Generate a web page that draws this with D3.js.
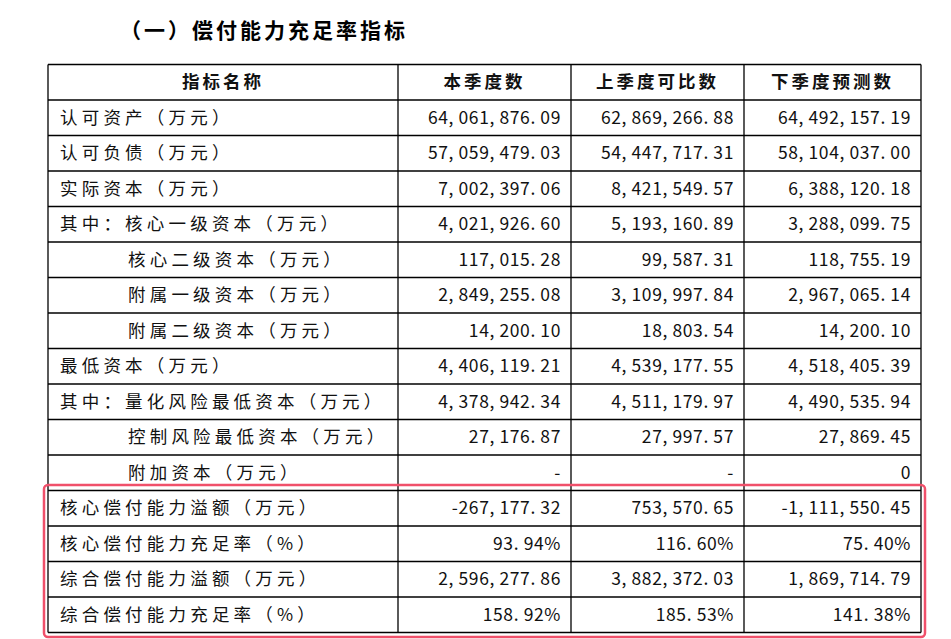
<!DOCTYPE html><html><head><meta charset="utf-8"><script src="https://cdn.jsdelivr.net/npm/d3@7"></script>
<style>body{margin:0;background:#fff}</style></head><body><svg id="c" width="951" height="639"></svg>
<script>
const title="（一）偿付能力充足率指标";
const headers=["指标名称","本季度数","上季度可比数","下季度预测数"];
const labels=["认可资产（万元）","认可负债（万元）","实际资本（万元）","其中：核心一级资本（万元）","核心二级资本（万元）","附属一级资本（万元）","附属二级资本（万元）","最低资本（万元）","其中：量化风险最低资本（万元）","控制风险最低资本（万元）","附加资本（万元）","核心偿付能力溢额（万元）","核心偿付能力充足率（%）","综合偿付能力溢额（万元）","综合偿付能力充足率（%）"];
const indent=[0,0,0,0,1,1,1,0,0,1,1,0,0,0,0];
const current=["64,061,876.09","57,059,479.03","7,002,397.06","4,021,926.60","117,015.28","2,849,255.08","14,200.10","4,406,119.21","4,378,942.34","27,176.87","-","-267,177.32","93.94%","2,596,277.86","158.92%"];
const previous=["62,869,266.88","54,447,717.31","8,421,549.57","5,193,160.89","99,587.31","3,109,997.84","18,803.54","4,539,177.55","4,511,179.97","27,997.57","-","753,570.65","116.60%","3,882,372.03","185.53%"];
const forecast=["64,492,157.19","58,104,037.00","6,388,120.18","3,288,099.75","118,755.19","2,967,065.14","14,200.10","4,518,405.39","4,490,535.94","27,869.45","0","-1,111,550.45","75.40%","1,869,714.79","141.38%"];
const svg=d3.select("#c");
const font="'Noto Sans CJK SC',sans-serif";
const x=d3.scaleOrdinal().domain([0,1,2,3,4]).range([48,398,571,744,921]);
const y=d3.scaleLinear().domain([0,16]).range([64.5,632.5]);
svg.append("text").attr("x",120).attr("y",38).attr("font-family",font).attr("font-weight","bold").attr("font-size",21).attr("letter-spacing",3).text(title);
// grid
d3.range(17).forEach(i=>svg.append("line").attr("x1",48).attr("x2",921).attr("y1",y(i)).attr("y2",y(i)).attr("stroke","#000").attr("stroke-width",1.3));
[0,1,2,3,4].forEach(i=>svg.append("line").attr("x1",x(i)).attr("x2",x(i)).attr("y1",y(0)).attr("y2",y(16)).attr("stroke","#000").attr("stroke-width",1.3));
const tx=(t,xx,yy,anchor,extra)=>svg.append("text").attr("x",xx).attr("y",yy).attr("text-anchor",anchor).attr("font-family",font).attr("font-size",17.5).attr("letter-spacing",extra).attr("fill","#111").text(t);
headers.forEach((h,i)=>tx(h,(x(i)+x(i+1))/2,y(0.5)+6,"middle",3).attr("font-weight","bold"));
const cols=[current,previous,forecast];
labels.forEach((l,r)=>{
  const cy=y(r+1.5)+6;
  tx(l,indent[r]?128:60,cy,"start",4.2);
  cols.forEach((c,j)=>tx(c[r].replace(/,/g,", ").replace(/\./g,". "),x(j+2)-10,cy,"end",0.6));
});
svg.append("rect").attr("x",44).attr("y",485).attr("width",881).attr("height",152).attr("rx",4).attr("fill","none").attr("stroke","#f0506a").attr("stroke-width",2.5);
</script></body></html>
